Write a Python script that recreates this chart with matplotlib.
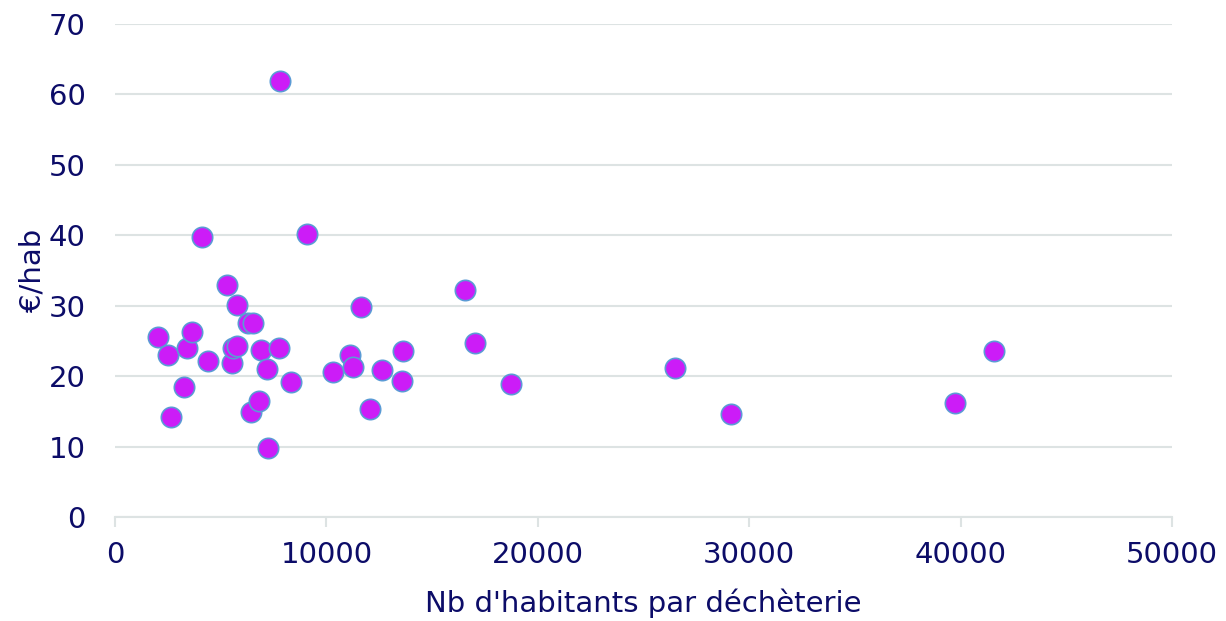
import matplotlib
matplotlib.use('Agg')
import matplotlib.pyplot as plt

# données : nb d'habitants par déchèterie / coût en €/hab
habitants = [2018, 2523, 2649, 3279, 3421, 3642, 4101, 4385, 5283, 5535,
             5597, 5771, 5786, 6306, 6543, 6418, 6812, 6923, 7206, 7253,
             7743, 7805, 8326, 9082, 10312, 11100, 11240, 11652, 12063, 12614,
             13562, 13640, 16556, 17029, 18732, 26490, 29140, 39735, 41580]
euro_hab = [25.5, 23.0, 14.2, 18.4, 24.0, 26.2, 39.7, 22.2, 32.9, 21.8,
            24.0, 24.3, 30.1, 27.5, 27.6, 14.9, 16.4, 23.7, 21.0, 9.8,
            24.0, 61.9, 19.1, 40.2, 20.6, 23.0, 21.3, 29.8, 15.3, 20.8,
            19.3, 23.6, 32.2, 24.7, 18.9, 21.2, 14.6, 16.2, 23.6]
x_ticks = [0, 10000, 20000, 30000, 40000, 50000]
y_ticks = [0, 10, 20, 30, 40, 50, 60, 70]

navy = '#0c0c68'
plt.rcParams['font.family'] = ['DejaVu Sans Condensed', 'DejaVu Sans']

fig = plt.figure(figsize=(12.26, 6.21), dpi=100)
ax = fig.add_axes([0.0938, 0.1675, 0.956 - 0.0938, 0.9614 - 0.1675])

ax.scatter(habitants, euro_hab, s=215, color='#cc1cf7', edgecolor='#5b9bd5',
           linewidth=1.2, zorder=3)

ax.set_xlim(0, 50000)
ax.set_ylim(0, 70)
ax.set_xticks(x_ticks)
ax.set_yticks(y_ticks)
ax.grid(axis='y', color='#dde3e3', linewidth=1.5, zorder=0)

for s in ['top', 'right', 'left']:
    ax.spines[s].set_visible(False)
ax.spines['bottom'].set_color('#dde3e3')
ax.spines['bottom'].set_linewidth(1.5)

ax.tick_params(axis='y', length=0, pad=21, labelsize=21, labelcolor=navy)
ax.tick_params(axis='x', length=7, width=1.5, color='#dde3e3', pad=10,
               labelsize=21, labelcolor=navy)

ax.set_xlabel("Nb d'habitants par déchèterie", fontsize=21, color=navy, labelpad=14)
ax.set_ylabel('€/hab', fontsize=21, color=navy, labelpad=2)

fig.savefig('out.png', dpi=100)
